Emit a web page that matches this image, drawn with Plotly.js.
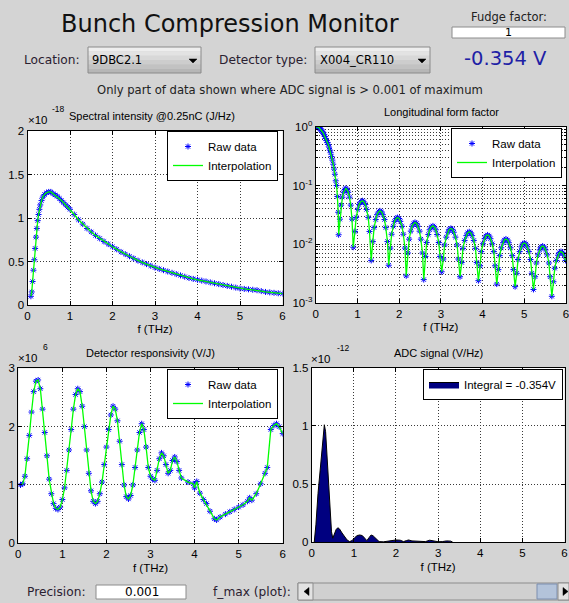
<!DOCTYPE html>
<html><head><meta charset="utf-8">
<script src="https://cdn.plot.ly/plotly-3.0.1.min.js"></script>
<style>html,body{margin:0;padding:0;background:#d4d4d4;overflow:hidden}#chart{width:569px;height:603px}</style>
</head><body><div id="chart"></div>
<script>
// ---------------- DATA ----------------
const fTicks = [0, 1, 2, 3, 4, 5, 6];
const specTicks = [0, 0.5, 1, 1.5, 2];
const respTicks = [0, 1, 2, 3];
const adcTicks = [0, 0.5, 1, 1.5];
const ffTicks = [0.001, 0.01, 0.1, 1];
const ffTickText = ['10<sup>-3</sup>', '10<sup>-2</sup>', '10<sup>-1</sup>', '10<sup>0</sup>'];

// Spectral intensity @0.25nC, units of 1e-18 J/Hz
const specF = [0.08,0.10,0.12,0.14,0.16,0.18,0.20,0.22,0.24,0.26,0.28,0.30,0.33,0.36,0.40,0.45,0.50,0.55,0.60,0.65,0.70,0.75,0.80,0.85,0.90,0.95,
  1.0,1.1,1.2,1.3,1.4,1.5,1.6,1.7,1.8,1.9,2.0,2.1,2.2,2.3,2.4,2.5,2.6,2.7,2.8,2.9,3.0,3.1,3.2,3.3,3.4,3.5,3.6,3.7,3.8,3.9,
  4.0,4.1,4.2,4.3,4.4,4.5,4.6,4.7,4.8,4.9,5.0,5.1,5.2,5.3,5.4,5.5,5.6,5.7,5.8,5.9,6.0];
const specRaw = [0.10,0.15,0.27,0.40,0.52,0.65,0.78,0.88,0.97,1.04,1.10,1.15,1.20,1.24,1.27,1.29,1.30,1.30,1.28,1.265,1.25,1.225,1.20,1.175,1.15,1.125,
  1.10,1.04,0.98,0.93,0.88,0.84,0.80,0.765,0.73,0.70,0.67,0.64,0.61,0.585,0.56,0.535,0.51,0.49,0.47,0.45,
  0.43,0.415,0.40,0.385,0.37,0.355,0.34,0.325,0.31,0.30,0.29,0.28,0.27,0.26,0.25,0.24,0.23,0.22,0.21,0.20,
  0.19,0.185,0.18,0.175,0.17,0.16,0.15,0.145,0.14,0.135,0.13];

// Longitudinal form factor
const ffF = [0.00,0.02,0.04,0.06,0.08,0.10,0.12,0.14,0.16,0.18,0.20,0.22,0.24,0.26,0.28,0.30,0.32,0.34,0.36,0.38,0.40,0.42,0.44,0.46,0.48,0.50,0.52,0.54,0.55,
  0.58,0.61,0.64,0.67,0.70,0.72,0.75,0.78,0.81,0.84,0.87,0.90,
  0.94,0.97,1.01,1.04,1.08,1.12,1.15,1.19,1.22,1.26,1.29,1.33,
  1.37,1.40,1.44,1.47,1.51,1.54,1.58,1.61,1.65,1.68,1.72,1.75,
  1.79,1.82,1.86,1.89,1.93,1.96,2.00,2.03,2.07,2.10,2.14,2.17,
  2.21,2.24,2.28,2.31,2.35,2.38,2.42,2.45,2.49,2.52,2.56,2.59,
  2.63,2.66,2.70,2.73,2.77,2.81,2.84,2.88,2.91,2.95,2.98,3.02,
  3.06,3.09,3.13,3.17,3.20,3.24,3.28,3.31,3.35,3.39,3.42,3.46,
  3.50,3.53,3.57,3.61,3.64,3.68,3.72,3.75,3.79,3.83,3.86,3.90,
  3.94,3.97,4.01,4.05,4.08,4.12,4.16,4.19,4.23,4.27,4.30,4.34,
  4.38,4.41,4.45,4.49,4.52,4.56,4.60,4.63,4.67,4.71,4.74,4.78,
  4.82,4.85,4.89,4.93,4.96,5.00,5.04,5.07,5.11,5.15,5.18,5.22,
  5.26,5.29,5.33,5.37,5.40,5.44,5.48,5.51,5.55,5.59,5.62,5.66,
  5.70,5.73,5.77,5.81,5.84,5.88,5.92,5.95,5.99];
const ffRaw = [1.0,1.0,0.99,0.98,0.96,0.93,0.90,0.86,0.82,0.78,0.73,0.68,0.63,0.58,0.54,0.50,0.45,0.40,0.36,0.31,0.27,0.23,0.19,0.155,0.12,0.10,0.065,0.035,0.0145,
  0.0267,0.0463,0.0632,0.0765,0.0854,0.089,0.0854,0.0765,0.0632,0.0463,0.0267,0.0089,
  0.0165,0.0286,0.0391,0.0473,0.0528,0.055,0.0528,0.0473,0.0391,0.0286,0.0165,0.0053,
  0.0111,0.0192,0.0263,0.0318,0.0355,0.037,0.0355,0.0318,0.0263,0.0192,0.0111,0.0044,
  0.0086,0.0148,0.0202,0.0245,0.0274,0.0285,0.0274,0.0245,0.0202,0.0148,0.0086,0.0029,
  0.0071,0.0122,0.0167,0.0202,0.0226,0.0235,0.0226,0.0202,0.0167,0.0122,0.0071,0.0025,
  0.0062,0.0107,0.0146,0.0176,0.0197,0.0205,0.0197,0.0176,0.0146,0.0107,0.0062,0.0034,
  0.0056,0.0097,0.0132,0.0160,0.0179,0.0186,0.0179,0.0160,0.0132,0.0097,0.0056,0.0028,
  0.0049,0.0085,0.0116,0.0140,0.0156,0.0163,0.0156,0.0140,0.0116,0.0085,0.0049,0.0024,
  0.0043,0.0075,0.0102,0.0124,0.0138,0.0144,0.0138,0.0124,0.0102,0.0075,0.0043,0.0021,
  0.0037,0.0064,0.0087,0.0106,0.0118,0.0123,0.0118,0.0106,0.0087,0.0064,0.0037,0.0019,
  0.0032,0.0055,0.0075,0.0090,0.0101,0.0105,0.0101,0.0090,0.0075,0.0055,0.0032,0.0017,
  0.0028,0.0048,0.0066,0.0080,0.0089,0.0093,0.0089,0.0080,0.0066,0.0048,0.0028,0.0013,
  0.0023,0.0039,0.0053,0.0065,0.0072,0.0075,0.0072,0.0065,0.0053];

// Detector responsivity, units of 1e6 V/J
const respF = [0.05,0.10,0.15,0.20,0.25,0.30,0.35,0.40,0.45,0.50,0.55,0.60,0.65,0.70,0.75,0.80,0.85,0.90,0.95,1.00,
  1.05,1.10,1.15,1.20,1.25,1.30,1.35,1.40,1.45,1.50,1.55,1.60,1.65,1.70,1.75,1.80,1.85,1.90,1.95,2.00,
  2.05,2.10,2.15,2.20,2.25,2.30,2.35,2.40,2.45,2.50,2.55,2.60,2.65,2.70,2.75,2.80,2.85,2.90,2.95,3.00,
  3.05,3.10,3.15,3.20,3.25,3.30,3.35,3.40,3.45,3.50,3.55,3.60,3.65,3.70,
  3.85,3.97,4.00,4.05,4.12,4.20,4.27,4.35,4.45,4.50,4.58,4.70,4.80,4.90,5.00,5.10,5.20,5.25,5.30,5.40,5.50,5.60,5.65,5.73,5.80,5.86,5.92,6.00];
const respRaw = [1.00,1.02,1.15,1.45,1.85,2.25,2.60,2.78,2.80,2.65,2.30,1.90,1.50,1.10,0.85,0.68,0.60,0.58,0.62,0.75,
  0.95,1.25,1.60,1.95,2.30,2.55,2.65,2.60,2.35,2.00,1.60,1.20,0.90,0.72,0.68,0.72,0.85,1.05,1.35,1.65,
  1.95,2.20,2.35,2.30,2.10,1.75,1.35,1.00,0.80,0.76,0.82,1.00,1.30,1.60,1.90,2.05,1.95,1.65,1.30,1.15,
  1.10,1.08,1.25,1.45,1.55,1.50,1.35,1.20,1.25,1.42,1.48,1.40,1.25,1.12,
  1.05,1.02,0.95,1.06,0.86,0.75,0.68,0.55,0.42,0.40,0.45,0.50,0.54,0.58,0.62,0.66,0.72,0.78,0.74,0.85,1.02,1.20,1.30,1.95,2.02,2.05,2.00,1.88];

// ADC signal, units of 1e-12 V/Hz
const adcF = [0.06,0.10,0.15,0.20,0.25,0.30,0.33,0.36,0.40,0.44,0.47,0.50,0.54,0.58,0.62,0.66,0.72,0.78,0.84,0.90,
  0.96,1.02,1.08,1.14,1.20,1.26,1.31,1.36,1.41,1.46,1.52,1.60,1.70,1.80,1.90,2.00,2.10,2.18,2.25,2.30,
  2.38,2.45,2.55,2.70,2.80,2.90,3.00,3.10,3.20,3.30,3.35];
const adcSig = [0,0.15,0.42,0.62,0.86,1.01,0.95,0.78,0.50,0.25,0.09,0.035,0.07,0.11,0.125,0.115,0.08,0.045,0.02,0.006,
  0.015,0.04,0.058,0.063,0.058,0.035,0.014,0.04,0.063,0.055,0.03,0.006,0.004,0.01,0.018,0.02,0.018,0.006,0.015,0.02,
  0.012,0.01,0.004,0.006,0.018,0.012,0.005,0.006,0.012,0.01,0];

// ---------------- HELPERS ----------------
const W = 569, H = 603;
const px = x => x / W;
const py = y => 1 - y / H;
const AX = 'Liberation Sans, Arial, sans-serif';
const GUI = 'DejaVu Sans, sans-serif';
const GRID = '#3a3a3a';
const GDASH = '1px,2px';

const rawMarker = {symbol: 'asterisk-open', size: 5, color: '#0000ff', line: {color: '#0000ff', width: 1}};
const interpLine = {color: '#00ff00', width: 1.3};

function xa(l, r, anchor) {
  return {domain: [px(l), px(r)], anchor: anchor, range: [0, 6], tickmode: 'array', tickvals: fTicks,
    ticks: 'inside', ticklen: 4, tickcolor: '#000', showline: true, linecolor: '#000', linewidth: 1, mirror: 'allticks',
    showgrid: true, gridcolor: GRID, griddash: GDASH, gridwidth: 1, zeroline: false, ticklabeloverflow: 'allow',
    tickfont: {family: AX, size: 11.5, color: '#000'},
    title: {text: 'f (THz)', font: {family: AX, size: 11.5, color: '#000'}, standoff: 4},
    fixedrange: true};
}
function ya(top, bot, anchor, range, ticks) {
  return {domain: [py(bot), py(top)], anchor: anchor, range: range, tickmode: 'array', tickvals: ticks,
    ticks: 'inside', ticklen: 4, tickcolor: '#000', showline: true, linecolor: '#000', linewidth: 1, mirror: 'allticks',
    showgrid: true, gridcolor: GRID, griddash: GDASH, gridwidth: 1, zeroline: false, ticklabeloverflow: 'allow',
    tickfont: {family: AX, size: 11.5, color: '#000'}, fixedrange: true};
}
function leg(right, top) {
  return {x: px(right), y: py(top), xanchor: 'right', yanchor: 'top', bgcolor: '#ffffff', bordercolor: '#000000',
    borderwidth: 1, font: {family: AX, size: 11.5, color: '#000'}, itemwidth: 30, tracegroupgap: 0, traceorder: 'normal'};
}

// ---------------- TRACES ----------------
const traces = [
  {x: specF, y: specRaw, xaxis: 'x', yaxis: 'y', mode: 'markers', name: 'Raw data', marker: rawMarker, legend: 'legend'},
  {x: specF, y: specRaw, xaxis: 'x', yaxis: 'y', mode: 'lines', name: 'Interpolation', line: interpLine, legend: 'legend'},
  {x: ffF, y: ffRaw, xaxis: 'x2', yaxis: 'y2', mode: 'markers', name: 'Raw data', marker: rawMarker, legend: 'legend2'},
  {x: ffF, y: ffRaw, xaxis: 'x2', yaxis: 'y2', mode: 'lines', name: 'Interpolation', line: interpLine, legend: 'legend2'},
  {x: respF, y: respRaw, xaxis: 'x3', yaxis: 'y3', mode: 'markers', name: 'Raw data', marker: rawMarker, legend: 'legend3'},
  {x: respF, y: respRaw, xaxis: 'x3', yaxis: 'y3', mode: 'lines', name: 'Interpolation', line: interpLine, legend: 'legend3'},
  {x: adcF, y: adcSig, xaxis: 'x4', yaxis: 'y4', mode: 'lines', fill: 'tozeroy', fillcolor: '#000080',
    line: {color: '#000000', width: 1}, name: 'Integral = -0.354V', legend: 'legend4'}
];

// ---------------- GUI SHAPES ----------------
const shapes = [];
function rect(x0, y0, x1, y1, fill, line, lw) {
  shapes.push({type: 'rect', xref: 'paper', yref: 'paper', x0: px(x0), x1: px(x1), y0: py(y1), y1: py(y0),
    fillcolor: fill, line: {color: line || fill, width: lw === undefined ? 1 : lw}, layer: 'above'});
}
function poly(pts, fill) {
  const d = pts.map((p, i) => (i ? 'L' : 'M') + px(p[0]).toFixed(5) + ',' + py(p[1]).toFixed(5)).join(' ') + ' Z';
  shapes.push({type: 'path', xref: 'paper', yref: 'paper', path: d, fillcolor: fill, line: {color: fill, width: 0.5}, layer: 'above'});
}
function dropdown(x0, y0, x1, y1, arrowX) {
  const bands = ['#eeeeee', '#e3e3e3', '#d8d8d8', '#cdcdcd', '#c2c2c2', '#b6b6b6'];
  const h = (y1 - y0) / bands.length;
  bands.forEach((c, i) => rect(x0, y0 + i * h, x1, y0 + (i + 1) * h, c, c, 0));
  rect(x0, y0, x1, y1, 'rgba(0,0,0,0)', '#8a8a8a', 1);
  poly([[arrowX - 4, 59], [arrowX + 4, 59], [arrowX, 63]], '#000000');
}
// Fudge factor input
rect(452, 27, 565, 38, '#ffffff', '#8c8c8c', 1);
// Dropdowns
dropdown(88, 47, 201, 73, 193);
dropdown(315, 47, 430, 73, 422);
// Precision input
rect(96, 585, 186, 599, '#ffffff', '#8c8c8c', 1);
// Slider
rect(298, 583, 569, 600, '#d0d0d0', '#8c8c8c', 1);
rect(298, 583, 313, 600, '#e2e2e2', '#8c8c8c', 1);
poly([[309, 587.5], [309, 595.5], [304, 591.5]], '#000000');
rect(537, 584, 557, 599, '#b3c3da', '#7d8fb0', 1);
rect(558, 583, 569, 600, '#e2e2e2', '#8c8c8c', 1);
poly([[563, 587.5], [563, 595.5], [568, 591.5]], '#000000');

// ---------------- ANNOTATIONS ----------------
const ann = [];
function txt(t, x, y, size, fam, color, xanchor) {
  ann.push({text: t, x: px(x), y: py(y), xref: 'paper', yref: 'paper', showarrow: false,
    xanchor: xanchor || 'center', yanchor: 'middle', font: {family: fam, size: size, color: color || '#000'}});
}
txt('Bunch Compression Monitor', 230, 24, 24, GUI, '#111111');
txt('Fudge factor:', 509, 17, 11.5, GUI, '#222222');
txt('1', 508, 32.5, 11, GUI, '#000000');
txt('Location:', 82, 60, 12.2, GUI, '#2a2030', 'right');
txt('9DBC2.1', 90, 60, 11.5, GUI, '#000000', 'left');
txt('Detector type:', 309, 60, 12.2, GUI, '#2a2030', 'right');
txt('X004_CR110', 318, 60, 11.6, GUI, '#000000', 'left');
txt('-0.354 V', 505, 58, 19.5, GUI, '#1f1fa6');
txt('Only part of data shown where ADC signal is &gt; 0.001 of maximum', 290, 90, 11.6, GUI, '#222222');
txt('Precision:', 88, 592, 12.2, GUI, '#2a2030', 'right');
txt('0.001', 142, 592, 12, GUI, '#000000');
txt('f_max (plot):', 293, 592, 12.2, GUI, '#2a2030', 'right');

// subplot titles and exponents
txt('Spectral intensity @0.25nC (J/Hz)', 152, 116, 11, AX);
txt('×10', 38, 120, 11.5, AX);
txt('-18', 58, 109, 8.5, AX);
txt('Longitudinal form factor', 441, 112, 11, AX);
txt('Detector responsivity (V/J)', 150, 353, 11, AX);
txt('×10', 28, 358, 11.5, AX);
txt('6', 45, 347, 8.5, AX);
txt('ADC signal (V/Hz)', 438, 353, 11, AX);
txt('×10', 321, 359, 11.5, AX);
txt('-12', 343, 348, 8.5, AX);

// ---------------- LAYOUT ----------------
const y2 = ya(126.7, 303, 'x2', [-3, 0], ffTicks);
y2.type = 'log';
y2.ticktext = ffTickText;
y2.minor = {dtick: 'D1', showgrid: true, gridcolor: GRID, griddash: GDASH, gridwidth: 1, ticks: 'inside', ticklen: 2, tickcolor: '#000'};

const layout = {
  width: W, height: H, margin: {l: 0, r: 0, t: 0, b: 0},
  paper_bgcolor: '#d4d4d4', plot_bgcolor: '#ffffff',
  font: {family: AX, size: 11.5, color: '#000'},
  showlegend: true,
  xaxis: xa(27.5, 282.5, 'y'),
  yaxis: ya(131, 305, 'x', [0, 2], specTicks),
  xaxis2: xa(315.7, 566, 'y2'),
  yaxis2: y2,
  xaxis3: xa(18.3, 282.7, 'y3'),
  yaxis3: ya(368.3, 543.3, 'x3', [0, 3], respTicks),
  xaxis4: xa(311.7, 564.5, 'y4'),
  yaxis4: ya(367.7, 542.3, 'x4', [0, 1.5], adcTicks),
  legend: leg(278, 131),
  legend2: leg(562, 128),
  legend3: leg(278, 369),
  legend4: leg(563, 369),
  shapes: shapes,
  annotations: ann
};

Plotly.newPlot('chart', traces, layout, {displayModeBar: false, staticPlot: true});
</script>
</body></html>
